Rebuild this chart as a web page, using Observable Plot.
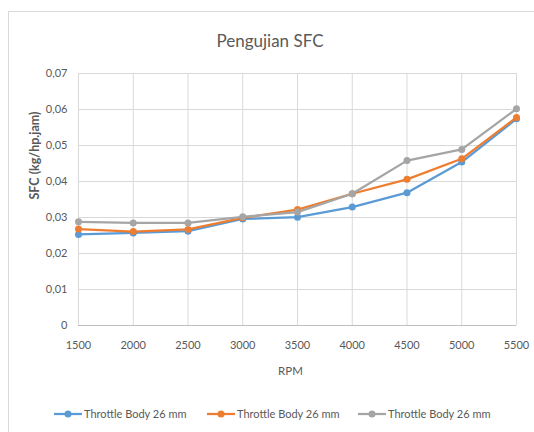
<!DOCTYPE html>
<html>
<head>
<meta charset="utf-8">
<script src="https://cdn.jsdelivr.net/npm/d3@7"></script>
<script src="https://cdn.jsdelivr.net/npm/@observablehq/plot@0.6"></script>
<style>
  html, body { margin: 0; padding: 0; background: #fff; }
  #wrap { position: relative; width: 534px; height: 432px; overflow: hidden; font-family: Lato, "Open Sans", sans-serif; }
  #frame { position: absolute; left: 8px; top: 11px; width: 600px; height: 500px; border: 1px solid #d9d9d9; box-sizing: border-box; }
  #title { position: absolute; left: 0; width: 540px; top: 30px; text-align: center; font-size: 17px; color: #595959; }
  #chart { position: absolute; left: 0; top: 0; }
  #legend { position: absolute; top: 407px; left: 0; width: 534px; height: 16px; font-size: 11px; color: #595959; }
  .item { position: absolute; display: flex; align-items: center; white-space: nowrap; }
  .item svg { margin-right: 2px; }
</style>
</head>
<body>
<div id="wrap">
  <div id="frame"></div>
  <div id="chart"></div>
  <div id="title">Pengujian SFC</div>
  <div id="legend"></div>
</div>
<script>
const rpm = [1500, 2000, 2500, 3000, 3500, 4000, 4500, 5000, 5500];
const seriesNames = ["Throttle Body 26 mm", "Throttle Body 26 mm", "Throttle Body 26 mm"];
const seriesColors = ["#5B9BD5", "#ED7D31", "#A5A5A5"];
const sfcBlue   = [0.0253, 0.0257, 0.0262, 0.0296, 0.0301, 0.0329, 0.0369, 0.0454, 0.0574];
const sfcOrange = [0.0268, 0.0261, 0.0267, 0.0299, 0.0322, 0.0366, 0.0406, 0.0463, 0.0578];
const sfcGray   = [0.0288, 0.0285, 0.0285, 0.0302, 0.0315, 0.0366, 0.0458, 0.0489, 0.0602];
const yTicks = [0, 0.01, 0.02, 0.03, 0.04, 0.05, 0.06, 0.07];

const allSeries = [sfcBlue, sfcOrange, sfcGray];
const data = [];
allSeries.forEach((vals, si) => {
  vals.forEach((v, i) => data.push({ s: si, rpm: rpm[i], sfc: v }));
});

const fmtY = d => d === 0 ? "0" : d.toFixed(2).replace(".", ",");

const chart = Plot.plot({
  width: 534,
  height: 380,
  marginLeft: 78,
  marginRight: 18,
  marginTop: 73,
  marginBottom: 55,
  style: { fontFamily: "Lato, 'Open Sans', sans-serif", fontSize: "11px", color: "#595959", background: "transparent" },
  x: { domain: [1500, 5500], ticks: rpm, tickFormat: d => String(d), tickSize: 0, tickPadding: 16, label: null },
  y: { domain: [0, 0.07], ticks: yTicks, tickFormat: fmtY, tickSize: 0, tickPadding: 11, label: null },
  color: { domain: [0, 1, 2], range: seriesColors },
  marks: [
    Plot.gridX(rpm, { stroke: "#d9d9d9", strokeOpacity: 1, strokeWidth: 1 }),
    Plot.gridY(yTicks, { stroke: "#d9d9d9", strokeOpacity: 1, strokeWidth: 1 }),
    Plot.ruleY([0], { stroke: "#bfbfbf", strokeWidth: 1 }),
    Plot.axisX({ ticks: rpm, tickFormat: d => String(d), tickSize: 0, tickPadding: 16, label: null, fill: "#595959" }),
    Plot.axisY({ ticks: yTicks, tickFormat: fmtY, tickSize: 0, tickPadding: 11, label: null, fill: "#595959" }),
    Plot.text(["RPM"], { frameAnchor: "bottom", dy: 49, fill: "#595959", fontSize: 11.5, dx: -7 }),
    Plot.text(["SFC (kg/hp.jam)"], { frameAnchor: "left", dx: -44, dy: 0, rotate: -90, fill: "#595959", fontSize: 12.5, fontWeight: "bold" }),
    Plot.line(data, { x: "rpm", y: "sfc", z: "s", stroke: "s", strokeWidth: 2.25 }),
    Plot.dot(data, { x: "rpm", y: "sfc", fill: "s", r: 3.5 })
  ]
});
document.getElementById("chart").appendChild(chart);

const legend = document.getElementById("legend");
const legendX = [54, 207, 358];
seriesNames.forEach((name, i) => {
  const item = document.createElement("div");
  item.className = "item";
  item.style.left = legendX[i] + "px";
  item.innerHTML = `<svg width="28" height="12"><line x1="0" y1="6" x2="28" y2="6" stroke="${seriesColors[i]}" stroke-width="2.25"/><circle cx="14" cy="6" r="3.5" fill="${seriesColors[i]}"/></svg><span></span>`;
  item.querySelector("span").textContent = name;
  legend.appendChild(item);
});
</script>
</body>
</html>
